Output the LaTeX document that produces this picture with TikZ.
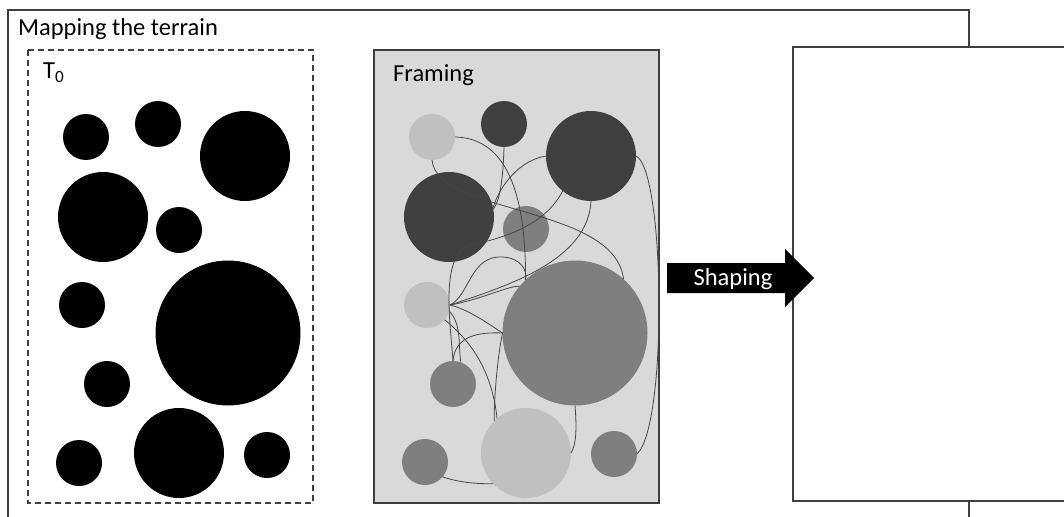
\documentclass[tikz,border=0pt]{standalone}
\usepackage{fontspec}
\setmainfont{Carlito}
\definecolor{boxline}{RGB}{64,64,64}
\definecolor{darkdot}{RGB}{64,64,64}
\definecolor{middot}{RGB}{127,127,127}
\definecolor{lightdot}{RGB}{192,192,192}
\definecolor{framebg}{RGB}{217,217,217}
\definecolor{linkgray}{RGB}{70,70,70}

\begin{document}
\begin{tikzpicture}[x=1pt,y=-1pt,
    dot/.style={circle,inner sep=0pt,outer sep=0pt},
    smalldot/.style={dot,minimum size=46pt},
    meddot/.style={dot,minimum size=90pt},
    bigdot/.style={dot,minimum size=145pt},
    link/.style={draw=linkgray,line width=0.8pt},
    boxtitle/.style={inner sep=0pt,font=\fontsize{24.5}{28}\selectfont}]
    \useasboundingbox (0,0) rectangle (1064,516);
    \clip (0,0) rectangle (1064,516);

    % boxes
    \draw[boxline,line width=1.4pt] (8,10) rectangle (969,540);
    \draw[boxline,line width=1.3pt,dash pattern=on 6pt off 4pt] (28,50) rectangle (313,503);
    \draw[boxline,line width=1.4pt,fill=framebg] (374,50) rectangle (659,503);
    \draw[boxline,line width=1.4pt,fill=white] (793,47) rectangle (1080,501);

    \node[boxtitle,anchor=base west] (mapping) at (18,36) {Mapping the terrain};
    \node[boxtitle,anchor=base west] (tzero) at (43,79) {T\textsubscript{0}};
    \node[boxtitle,anchor=base west] (framing) at (393,82) {Framing};

    % T0
    \node[smalldot,fill=black] (t1) at (86,137) {};
    \node[smalldot,fill=black] (t2) at (158,124) {};
    \node[meddot,fill=black] (t3) at (245,156) {};
    \node[meddot,fill=black] (t4) at (103,217) {};
    \node[smalldot,fill=black] (t5) at (179,230) {};
    \node[smalldot,fill=black] (t6) at (82,305) {};
    \node[bigdot,fill=black] (t7) at (228,333) {};
    \node[smalldot,fill=black] (t8) at (107,384) {};
    \node[meddot,fill=black] (t9) at (179,453) {};
    \node[smalldot,fill=black] (t10) at (79,463) {};
    \node[smalldot,fill=black] (t11) at (267,455) {};

    % framing
    \node[smalldot,fill=lightdot] (fA) at (432,137) {};
    \node[smalldot,fill=darkdot] (fB) at (504,124) {};
    \node[meddot,fill=darkdot] (fC) at (591,156) {};
    \node[meddot,fill=darkdot] (fD) at (449,217) {};
    \node[smalldot,fill=middot] (fE) at (526,229) {};
    \node[smalldot,fill=lightdot] (fF) at (427,305) {};
    \node[bigdot,fill=middot] (fG) at (575,333) {};
    \node[smalldot,fill=middot] (fH) at (453,384) {};
    \node[meddot,fill=lightdot] (fI) at (526,453) {};
    \node[smalldot,fill=middot] (fJ) at (425,462) {};
    \node[smalldot,fill=middot] (fK) at (614,454) {};

    \draw[link] (fA.east) .. controls (500,138) and (526,180) .. (fG.133);
    \draw[link] (fA.south) .. controls (437,215) and (615,205) .. (fG.48);
    \draw[link] (fB.south) .. controls (503,180) and (500,200) .. (fD.10);
    \draw[link] (fC.west) .. controls (520,160) and (500,185) .. (fD.12);
    \draw[link] (fC.231) .. controls (545,225) and (505,238) .. (470,245)
        .. controls (440,255) and (450,320) .. (fH.north);
    \draw[link] (fF.east) .. controls (470,295) and (470,255) .. (503,257)
        .. controls (520,258) and (528,270) .. (fG.133);
    \draw[link] (fF.east) .. controls (480,300) and (510,285) .. (fG.140);
    \draw[link] (fF.east) .. controls (470,310) and (490,325) .. (fG.west);
    \draw[link] (fH.north) .. controls (455,335) and (480,332) .. (fG.west);
    \draw[link] (fG.west) .. controls (497,360) and (494,400) .. (fI.135);
    \draw[link] (fF.-40) .. controls (470,340) and (492,370) .. (fI.130);
    \draw[link] (fJ.-40) .. controls (460,483) and (480,484) .. (fI.223);
    \draw[link] (fG.south) .. controls (577,430) and (576,445) .. (fI.east);
    \draw[link] (fC.east) .. controls (665,170) and (668,425) .. (fK.east);
    \draw[link] (fC.south) .. controls (588,260) and (510,285) .. (fF.east);
    \draw[link] (fF.-15) .. controls (462,325) and (458,345) .. (fH.70);

    % shaping arrow
    \fill[black] (667,263) -- (785,263) -- (785,249) -- (814,278)
        -- (785,307) -- (785,293) -- (667,293) -- cycle;
    \node[boxtitle,text=white,anchor=base] (shaping) at (733,285) {Shaping};
\end{tikzpicture}
\end{document}
